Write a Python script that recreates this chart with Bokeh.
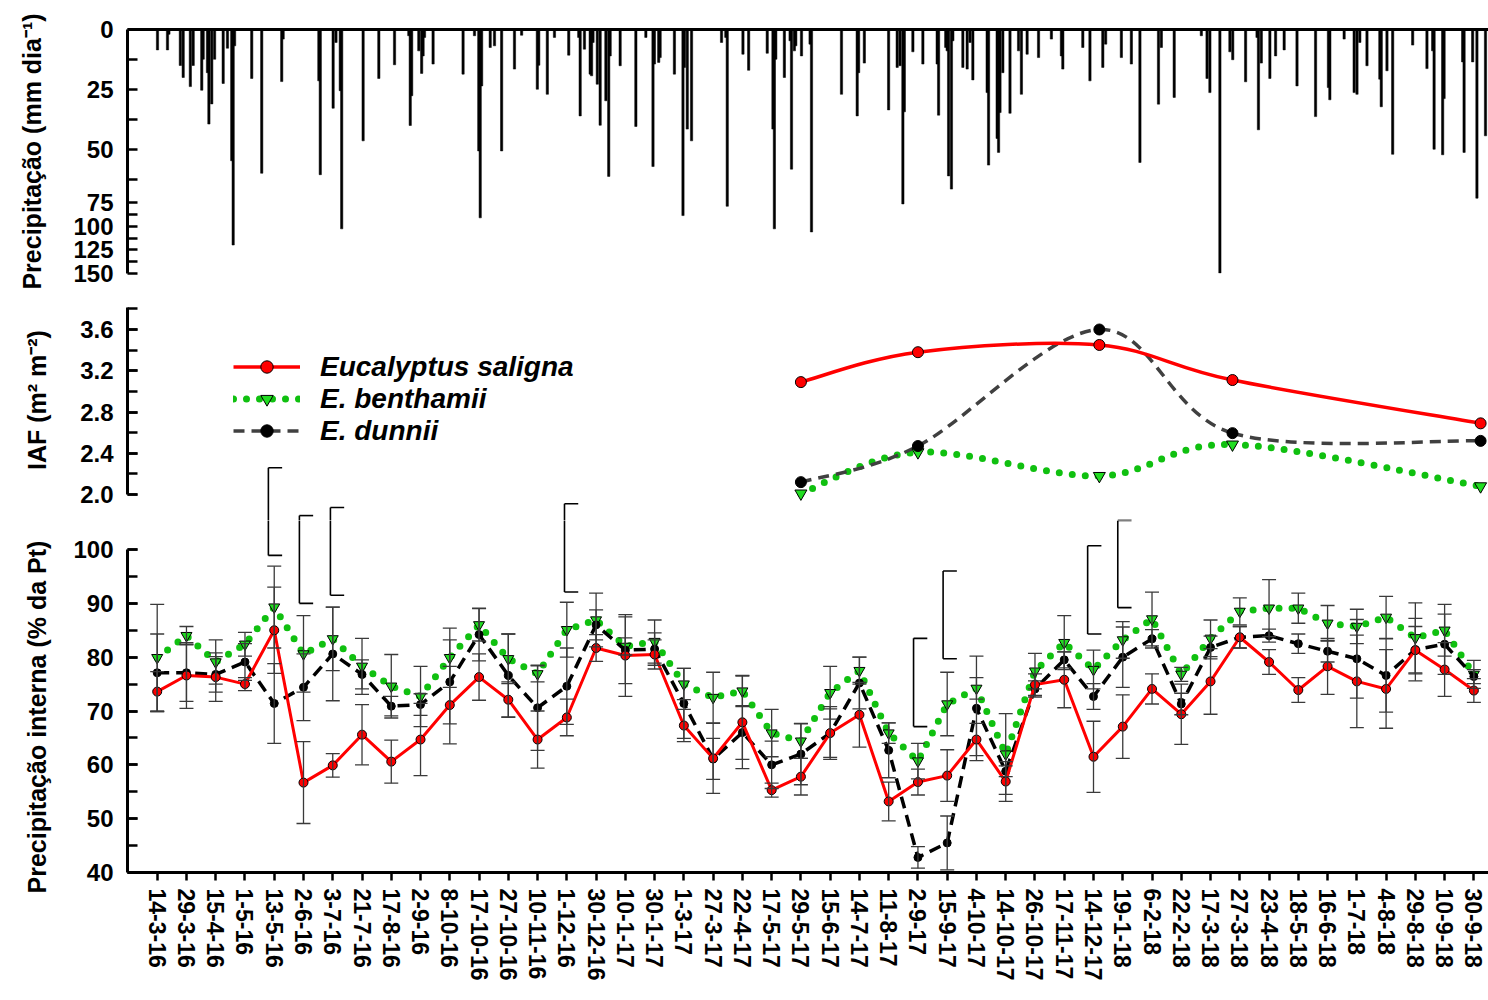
import numpy as np
from bokeh.plotting import figure
from bokeh.models import (Range1d, LinearAxis, FixedTicker, SingleIntervalTicker, Whisker, TeeHead,
                          ColumnDataSource, Legend, LegendItem, CustomJSTransform,
                          CustomJSTickFormatter, PrintfTickFormatter, Title)
from bokeh.transform import transform
from bokeh.layouts import column
from bokeh.embed import file_html
from bokeh.resources import INLINE

# ---------------- data ----------------
dates = ["14-3-16", "29-3-16", "15-4-16", "1-5-16", "13-5-16", "2-6-16", "3-7-16", "21-7-16",
         "17-8-16", "2-9-16", "8-10-16", "17-10-16", "27-10-16", "10-11-16", "1-12-16", "30-12-16",
         "10-1-17", "30-1-17", "1-3-17", "27-3-17", "22-4-17", "17-5-17", "29-5-17", "15-6-17",
         "14-7-17", "11-8-17", "2-9-17", "15-9-17", "4-10-17", "14-10-17", "26-10-17", "17-11-17",
         "14-12-17", "19-1-18", "6-2-18", "22-2-18", "17-3-18", "27-3-18", "23-4-18", "18-5-18",
         "16-6-18", "1-7-18", "4-8-18", "29-8-18", "10-9-18", "30-9-18"]

saligna = [73.6, 76.6, 76.3, 75.0, 85.0, 56.7, 59.9, 65.6, 60.6, 64.7, 71.1, 76.3, 72.1, 64.7, 68.8,
           81.7, 80.3, 80.5, 67.3, 61.2, 67.9, 55.3, 57.8, 65.9, 69.3, 53.2, 56.8, 58.0, 64.7, 56.9,
           74.9, 75.8, 61.5, 67.1, 74.1, 69.4, 75.5, 83.7, 79.1, 73.9, 78.3, 75.5, 74.1, 81.3, 77.7, 73.8]
saligna_sd = [3.7, 6.1, 4.5, 1.2, 8.0, 7.6, 2.2, 5.6, 4.0, 6.7, 7.2, 4.3, 3.3, 5.3, 3.4,
              2.5, 7.6, 2.7, 3.0, 6.5, 8.6, 1.3, 3.4, 4.9, 6.0, 3.6, 2.4, 4.8, 3.0, 3.7,
              2.0, 5.2, 6.6, 5.9, 2.8, 5.6, 6.1, 2.0, 2.3, 2.3, 5.2, 8.6, 7.3, 4.4, 5.0, 2.2]

benthamii = [79.9, 84.0, 79.1, 82.4, 89.3, 80.6, 83.4, 78.3, 74.6, 72.7, 79.9, 86.0, 79.7, 76.9, 85.1,
             86.9, 82.0, 82.9, 75.0, 72.5, 73.7, 65.9, 64.4, 73.4, 77.5, 65.9, 60.7, 71.3, 74.2, 62.0,
             77.4, 82.7, 77.7, 83.2, 87.1, 76.8, 83.5, 88.5, 89.1, 89.1, 86.3, 85.7, 87.4, 83.6, 85.0, 76.8]
benthamii_sd = [9.9, 1.7, 4.1, 2.2, 7.6, 7.1, 5.9, 5.2, 5.9, 5.6, 5.5, 3.0, 4.6, 1.5, 5.1,
                5.0, 1.6, 4.0, 2.9, 4.7, 2.9, 4.4, 3.2, 4.9, 2.5, 1.9, 3.3, 5.9, 2.0, 7.5,
                3.3, 5.0, 3.6, 3.4, 5.0, 1.3, 3.4, 2.5, 5.3, 2.8, 3.3, 3.2, 3.9, 6.5, 4.8, 2.6]

dunnii = [77.1, 77.1, 76.8, 79.1, 71.4, 74.4, 80.6, 76.8, 70.9, 71.2, 75.4, 84.2, 76.6, 70.6, 74.6,
          86.0, 81.3, 81.5, 71.4, 61.1, 66.0, 60.0, 62.0, 65.9, 75.2, 62.7, 42.8, 45.5, 70.5, 58.8,
          74.1, 79.5, 72.7, 80.0, 83.4, 71.3, 81.8, 83.7, 84.0, 82.5, 81.1, 79.7, 76.6, 81.4, 82.4, 76.4]
dunnii_sd = [7.2, 5.3, 3.3, 3.4, 7.4, 6.2, 8.7, 2.7, 1.8, 2.0, 7.8, 4.9, 7.7, 7.9, 7.1,
             2.8, 6.2, 3.0, 6.5, 3.8, 5.0, 4.4, 5.7, 4.5, 4.8, 5.1, 2.0, 5.0, 9.7, 1.0,
             1.5, 1.5, 2.4, 5.6, 1.7, 2.0, 2.1, 2.0, 1.2, 1.8, 2.0, 7.3, 6.8, 5.8, 5.6, 1.3]

# leaf area index (IAF) sampling positions on the date axis (category units)
iaf_pos = [22.0, 26.0, 32.2, 36.75, 45.23]
iaf_saligna = [3.09, 3.38, 3.45, 3.11, 2.69]
iaf_benthamii = [2.01, 2.41, 2.18, 2.485, 2.08]
iaf_dunnii = [2.12, 2.47, 3.60, 2.595, 2.52]

# significance brackets (category position, top %, bottom %)
brk_x = [3.80, 4.86, 5.92, 13.92, 25.85, 26.86, 31.80, 32.83]
brk_top = [115.2, 106.3, 107.8, 108.5, 83.5, 96.0, 100.7, 105.4]
brk_bottom = [98.9, 90.0, 91.5, 92.1, 67.1, 79.7, 84.3, 89.2]

# daily rainfall (day counted from 14-3-16, mm)
rain_day = [0, 7, 8, 16, 18, 23, 25, 31, 32, 35, 36, 38, 40, 46, 49, 52, 53, 54, 66, 73, 87, 88,
            113, 114, 123, 125, 128, 129, 144, 155, 166, 176, 177, 178, 183, 185, 186, 187, 193, 214,
            222, 225, 226, 227, 233, 236, 241, 250, 255, 266, 267, 273, 278, 288, 295, 296, 299,
            303, 304, 305, 308, 310, 314, 316, 317, 324, 335, 342, 347, 348, 351, 352, 362, 368,
            369, 371, 374, 395, 398, 399, 410, 414, 427, 431, 432, 433, 439, 443, 444, 446, 447, 451,
            457, 458, 479, 490, 491, 495, 512, 518, 520, 522, 523, 529, 536, 546, 547, 552, 553, 554,
            556, 557, 564, 567, 569, 571, 581, 582, 588, 589, 590, 592, 597, 603, 605, 609, 617, 626,
            633, 634, 648, 653, 662, 664, 675, 682, 688,
            701, 703, 712, 731, 735, 737, 744, 751, 753, 762, 770, 771, 773, 779, 783, 789, 798, 811,
            820, 821, 831, 838, 840, 842, 847, 856, 857, 861, 865, 879, 889, 893, 894, 900, 901, 914,
            915, 921, 924, 930]
rain_mm = [8.5, 8.5, 2.0, 15.0, 20.0, 23.8, 15.0, 25.3, 12.4, 18.0, 39.4, 31.0, 12.4, 22.5, 7.8, 54.7,
           119.7, 6.8, 20.4, 59.9, 21.7, 4.0,
           21.4, 60.5, 32.8, 5.4, 25.5, 102.5, 46.4, 20.4, 14.7, 2.6, 40.0, 27.6, 8.9, 18.3, 11.0, 3.3,
           14.4, 18.6,
           2.6, 50.6, 90.8, 23.5, 7.5, 6.8, 50.6, 16.5, 2.4, 24.9, 14.9, 27.0, 3.3, 10.7, 3.3, 36.0, 8.2,
           18.6, 19.3, 5.4, 22.8, 39.9, 29.7, 61.2, 11.0, 15.1, 40.4, 3.3, 57.1, 14.4, 13.7, 11.7, 18.6,
           88.4, 15.8, 41.5, 46.4, 5.4, 3.3, 78.5, 10.3, 17.0, 9.9, 41.5, 102.5, 12.4, 20.0, 4.7, 58.2,
           8.9, 6.8, 11.0,
           6.1, 105.8, 27.0, 36.0, 18.0, 14.0, 33.5, 15.8, 15.1, 76.0, 34.3, 9.3, 14.4, 14.4, 35.7, 7.5,
           8.9, 61.0, 66.5, 4.7, 15.8, 16.5, 5.4, 21.0, 26.3, 56.5, 45.4, 51.2, 34.6, 18.0, 34.9, 8.9,
           27.0, 10.3, 11.7, 4.0, 11.0, 16.5, 7.5, 21.4, 15.8, 6.1, 11.7, 14.4, 55.4,
           31.1, 7.5, 28.3, 2.6, 20.4, 26.3, 149.6, 9.3, 12.6, 21.8, 3.3, 41.8, 14.0, 20.4, 11.0, 8.5,
           23.5, 36.3, 24.2, 29.3, 4.0, 26.3, 27.0, 5.4, 15.1, 20.7, 32.2, 17.2, 52.0, 6.5, 16.3, 8.9,
           49.9, 52.2, 28.8, 13.5, 51.2, 13.5, 70.3, 44.3]

# ---------------- styling helpers ----------------
FONT = "Liberation Sans"
W = 1488
LEFT = 127
XR = Range1d(-1.015, 45.5)
RED = "#ff0000"
GREEN = "#10c010"
GREEN_MK = "#22dd22"
ERR = "#3a3a3a"
NBSP = "\u00a0"


def style_y_axis(ax, label_size="24px", standoff=14, lab_standoff=20):
    ax.axis_line_width = 3
    ax.axis_line_color = "black"
    ax.major_tick_in = 10
    ax.major_tick_out = 0
    ax.minor_tick_in = 10
    ax.minor_tick_out = 0
    ax.major_tick_line_width = 2.5
    ax.minor_tick_line_width = 2.5
    ax.major_label_text_font = FONT
    ax.major_label_text_font_style = "bold"
    ax.major_label_text_font_size = label_size
    ax.major_label_text_color = "black"
    ax.major_label_standoff = standoff
    ax.axis_label_text_font = FONT
    ax.axis_label_text_font_style = "bold"
    ax.axis_label_text_font_size = "25px"
    ax.axis_label_text_color = "black"
    ax.axis_label_standoff = lab_standoff


def new_fig(height, y_range, x_range, top=0, bottom=0):
    f = figure(width=W, height=height, x_range=x_range, y_range=y_range,
               output_backend="svg", toolbar_location=None,
               x_axis_type=None, y_axis_type=None,
               min_border_left=LEFT, min_border_right=0,
               min_border_top=top, min_border_bottom=bottom)
    f.outline_line_color = None
    f.background_fill_color = "white"
    f.border_fill_color = "white"
    return f


# ---------------- panel A: rainfall (broken axis) ----------------
def disp(mm):
    return mm if mm <= 72 else 72.29 + (mm - 75) * 0.3917

brk_tr = CustomJSTransform(v_func="""
const out = new Float64Array(xs.length);
for (let i = 0; i < xs.length; i++) {
  const v = xs[i];
  out[i] = v <= 72 ? v : (v < 75 ? 72.29 : 72.29 + (v - 75) * 0.3917);
}
return out;
""")

pa = new_fig(307, Range1d(disp(150), 0), Range1d(-21.0, 932.1), top=29, bottom=34)
rain_src = ColumnDataSource(dict(day=rain_day, mm=rain_mm))
pa.vbar(x="day", width=1.6, top=0, bottom=transform("mm", brk_tr), source=rain_src,
        fill_color="black", line_color="black", line_width=0.5)

major_mm = [0, 25, 50, 75, 100, 125, 150]
minor_mm = [12.5, 37.5, 62.5, 87.5, 112.5, 137.5]
ya = LinearAxis(ticker=FixedTicker(ticks=[disp(v) for v in major_mm],
                                   minor_ticks=[disp(v) for v in minor_mm]),
                formatter=CustomJSTickFormatter(code="""
return (tick <= 72.1 ? tick : 75 + (tick - 72.29) / 0.3917).toFixed(0);"""),
                axis_label="Precipitação (mm dia⁻¹)", bounds=(0, disp(150)))
style_y_axis(ya, lab_standoff=24)
pa.add_layout(ya, "left")
xa_top = LinearAxis(ticker=FixedTicker(ticks=[]), axis_line_width=3,
                    major_tick_line_color=None, minor_tick_line_color=None)
pa.add_layout(xa_top, "above")

# ---------------- panel B: IAF (frame 307 -> 520 px) ----------------
IAF_PX = 103.125
TF_PX = 5.383
SPLIT = 520                      # pixel row where panel B ends and panel C begins
iaf_lo = 2.0 - (SPLIT - 494) / IAF_PX
iaf_hi = 2.0 + 187 / IAF_PX
tf_hi = 100 + (549 - SPLIT) / TF_PX

pb = new_fig(SPLIT - 307, Range1d(iaf_lo, iaf_hi), XR)
pb.extra_y_ranges = {"tf": Range1d(tf_hi, tf_hi + (SPLIT - 307) / TF_PX)}

yb = LinearAxis(ticker=SingleIntervalTicker(interval=0.4, num_minor_ticks=2),
                formatter=PrintfTickFormatter(format="%.1f"),
                axis_label=NBSP * 4 + "IAF (m² m⁻²)", bounds=(2.0, 3.81))
style_y_axis(yb, lab_standoff=26)
pb.add_layout(yb, "left")


def catmull(xs, ys):
    px = [xs[0]] + list(xs) + [xs[-1]]
    py = [ys[0]] + list(ys) + [ys[-1]]
    out = dict(x0=[], y0=[], x1=[], y1=[], cx0=[], cy0=[], cx1=[], cy1=[])
    for i in range(1, len(px) - 2):
        out["x0"].append(px[i]); out["y0"].append(py[i])
        out["x1"].append(px[i + 1]); out["y1"].append(py[i + 1])
        out["cx0"].append(px[i] + (px[i + 1] - px[i - 1]) / 6)
        out["cy0"].append(py[i] + (py[i + 1] - py[i - 1]) / 6)
        out["cx1"].append(px[i + 1] - (px[i + 2] - px[i]) / 6)
        out["cy1"].append(py[i + 1] - (py[i + 2] - py[i]) / 6)
    return out


def bez(fig, ys, **kw):
    return fig.bezier(source=ColumnDataSource(catmull(iaf_pos, ys)), x0="x0", y0="y0", x1="x1",
                      y1="y1", cx0="cx0", cy0="cy0", cx1="cx1", cy1="cy1", **kw)


bez(pb, iaf_benthamii, line_color=GREEN, line_width=7, line_dash="0 13", line_cap="round")
bez(pb, iaf_dunnii, line_color="#404040", line_width=3.5, line_dash="11 7")
bez(pb, iaf_saligna, line_color=RED, line_width=3.5)
m_g = pb.scatter(iaf_pos, iaf_benthamii, marker="inverted_triangle", size=12,
                 fill_color=GREEN_MK, line_color="black", line_width=1)
m_k = pb.scatter(iaf_pos, iaf_dunnii, marker="circle", size=11, fill_color="black", line_color="black")
m_r = pb.scatter(iaf_pos, iaf_saligna, marker="circle", size=11, fill_color=RED, line_color="black")

# legend proxies (NaN data, nothing drawn in the plot)
nan = float("nan")
l_r = pb.line(x=[nan], y=[nan], line_color=RED, line_width=3.5)
l_g = pb.line(x=[nan], y=[nan], line_color=GREEN, line_width=7, line_dash="0 13", line_cap="round")
l_k = pb.line(x=[nan], y=[nan], line_color="#404040", line_width=3.5, line_dash="11 7")
leg = Legend(items=[LegendItem(label="Eucalyptus saligna", renderers=[l_r, m_r]),
                    LegendItem(label="E. benthamii", renderers=[l_g, m_g]),
                    LegendItem(label="E. dunnii", renderers=[l_k, m_k])],
             location=(106, SPLIT - 446.5), orientation="vertical", glyph_width=67, glyph_height=31,
             label_height=31, spacing=0, padding=0, margin=0, label_standoff=20,
             border_line_color=None, background_fill_alpha=0,
             label_text_font=FONT, label_text_font_style="bold italic", label_text_font_size="28px",
             label_text_color="black", label_text_baseline="middle")
pb.add_layout(leg)

# ---------------- panel C: throughfall (frame 520 -> 872 px) ----------------
pc = new_fig(1000 - SPLIT, Range1d(40, tf_hi), XR, bottom=128)
yc = LinearAxis(ticker=SingleIntervalTicker(interval=10, num_minor_ticks=2), bounds=(40, 100))
style_y_axis(yc)
pc.add_layout(yc, "left")
pc.add_layout(Title(text="Precipitação interna (% da Pt)", align="left", offset=-21,
                    vertical_align="bottom", standoff=40, text_font=FONT,
                    text_font_style="bold", text_font_size="25px", text_color="black"), "left")

xc = LinearAxis(ticker=FixedTicker(ticks=list(range(len(dates)))),
                major_label_overrides={i: d for i, d in enumerate(dates)},
                major_label_orientation="vertical")
xc.axis_line_width = 3
xc.major_tick_in = 0
xc.major_tick_out = 8
xc.major_tick_line_width = 2.5
xc.major_label_standoff = 8
xc.major_label_text_font = FONT
xc.major_label_text_font_style = "bold"
xc.major_label_text_font_size = "23px"
xc.major_label_text_color = "black"
pc.add_layout(xc, "below")

idx = list(range(len(dates)))
for vals, sds in [(benthamii, benthamii_sd), (dunnii, dunnii_sd), (saligna, saligna_sd)]:
    src = ColumnDataSource(dict(x=idx, up=[v + s for v, s in zip(vals, sds)],
                                lo=[v - s for v, s in zip(vals, sds)]))
    pc.add_layout(Whisker(source=src, base="x", upper="up", lower="lo",
                          line_color=ERR, line_width=1.3, level="glyph",
                          upper_head=TeeHead(size=14, line_color=ERR, line_width=1.3),
                          lower_head=TeeHead(size=14, line_color=ERR, line_width=1.3)))

pc.line(idx, benthamii, line_color=GREEN, line_width=7, line_dash="0 13", line_cap="round")
pc.scatter(idx, benthamii, marker="inverted_triangle", size=11, fill_color=GREEN_MK,
           line_color="black", line_width=1)
pc.line(idx, dunnii, line_color="black", line_width=3.5, line_dash="12 7")
pc.scatter(idx, dunnii, marker="circle", size=8, fill_color="black", line_color="black")
pc.line(idx, saligna, line_color=RED, line_width=3)
pc.scatter(idx, saligna, marker="circle", size=9, fill_color=RED, line_color="black", line_width=1)

# significance brackets (drawn in both lower panels, clipped to each frame)
cap = 0.47
bsrc = ColumnDataSource(dict(x=brk_x, t=brk_top, b=brk_bottom,
                             xc=[x + cap for x in brk_x]))
for fig, rng in [(pc, "default"), (pb, "tf")]:
    fig.segment(x0="x", y0="b", x1="x", y1="t", source=bsrc, line_color="black",
                line_width=1.6, y_range_name=rng)
    fig.segment(x0="x", y0="t", x1="xc", y1="t", source=bsrc, line_color="black",
                line_width=1.6, y_range_name=rng)
    fig.segment(x0="x", y0="b", x1="xc", y1="b", source=bsrc, line_color="black",
                line_width=1.6, y_range_name=rng)

layout = column(pa, pb, pc, spacing=0)
open("out.html", "w").write(file_html(layout, INLINE))
